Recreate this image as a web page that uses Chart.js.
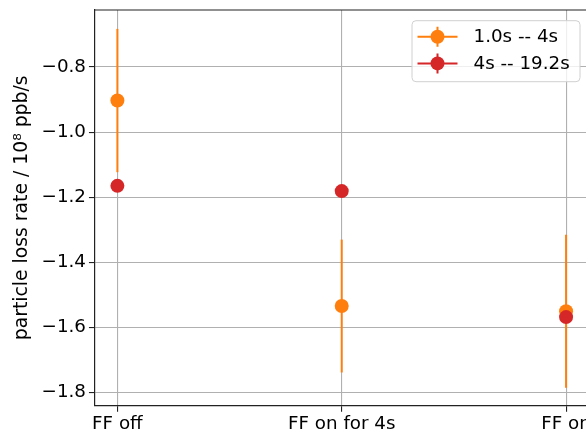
<!DOCTYPE html>
<html lang="en">
<head>
  <meta charset="UTF-8" />
  <title>Particle loss rate</title>
  <script src="https://cdn.jsdelivr.net/npm/chart.js"></script>
  <style>
    body {
      margin: 0;
      overflow: hidden;
      background: #fff;
    }

    /* a bit wider than the window: the right edge of the plot is cut off like in the original */
    .chart-container {
      width: 598px;
      height: 432px;
    }
  </style>
</head>
<body>
  <div class="chart-container">
    <canvas id="lossChart"></canvas>
  </div>

  <script>
    const categories = ['FF off', 'FF on for 4s', 'FF on'];
    const seriesLabels = ['1.0s -- 4s', '4s -- 19.2s'];
    const earlyRate = [-0.903, -1.534, -1.550];
    const earlyErr = [0.220, 0.204, 0.235];
    const lateRate = [-1.165, -1.181, -1.568];
    const lateErr = [0.015, 0.012, 0.015];
    const yTicks = [-1.8, -1.6, -1.4, -1.2, -1.0, -0.8];

    const orange = '#ff7f0e';
    const red = '#d62728';
    const font = { family: '"DejaVu Sans", sans-serif', size: 18.3 };

    const toPoints = (vals) => vals.map((v, i) => ({ x: i, y: v }));

    // drop the extra room chart.js keeps for edge labels, layout padding decides instead
    const noEdgePadding = (s) => {
      s.paddingTop = 0;
      s.paddingBottom = 0;
      s.paddingLeft = 0;
      s.paddingRight = 0;
    };

    // vertical error bar for each point, drawn just before its dataset so markers sit on top
    const errorBars = {
      id: 'errorBars',
      beforeDatasetDraw(chart, args) {
        const ds = chart.data.datasets[args.index];
        const { x, y } = chart.scales;
        const ctx = chart.ctx;
        ctx.save();
        ctx.strokeStyle = ds.backgroundColor;
        ctx.lineWidth = 2;
        ds.data.forEach((p, i) => {
          const px = x.getPixelForValue(p.x);
          ctx.beginPath();
          ctx.moveTo(px, y.getPixelForValue(p.y - ds.errors[i]));
          ctx.lineTo(px, y.getPixelForValue(p.y + ds.errors[i]));
          ctx.stroke();
        });
        ctx.restore();
      }
    };

    // top/right spines and the matplotlib style legend box
    const frameAndLegend = {
      id: 'frameAndLegend',
      afterDraw(chart) {
        const { ctx, chartArea: a } = chart;
        ctx.save();
        ctx.strokeStyle = '#222';
        ctx.lineWidth = 1.2;
        ctx.beginPath();
        ctx.moveTo(a.left, a.top);
        ctx.lineTo(a.right, a.top);
        ctx.lineTo(a.right, a.bottom);
        ctx.stroke();

        const boxW = 168, boxH = 61;
        const bx = a.right - 8.5 - boxW;
        const by = a.top + 10.7;
        ctx.beginPath();
        ctx.roundRect(bx, by, boxW, boxH, 4);
        ctx.fillStyle = 'rgba(255,255,255,0.8)';
        ctx.fill();
        ctx.strokeStyle = '#d0d0d0';
        ctx.lineWidth = 1;
        ctx.stroke();

        const items = [[seriesLabels[0], orange], [seriesLabels[1], red]];
        items.forEach(([label, color], i) => {
          const cy = by + 16 + i * 26.7;
          const hx = bx + 5.5;
          ctx.strokeStyle = color;
          ctx.lineWidth = 2;
          ctx.beginPath();
          ctx.moveTo(hx, cy);
          ctx.lineTo(hx + 40, cy);
          ctx.moveTo(hx + 20, cy - 10);
          ctx.lineTo(hx + 20, cy + 10);
          ctx.stroke();
          ctx.fillStyle = color;
          ctx.beginPath();
          ctx.arc(hx + 20, cy, 7, 0, Math.PI * 2);
          ctx.fill();
          ctx.fillStyle = '#000';
          ctx.font = `${font.size}px ${font.family}`;
          ctx.textBaseline = 'middle';
          ctx.textAlign = 'left';
          ctx.fillText(label, bx + 61.5, cy + 1);
        });
        ctx.restore();
      }
    };

    const ctx = document.getElementById('lossChart').getContext('2d');

    new Chart(ctx, {
      type: 'scatter',
      data: {
        datasets: [
          {
            label: seriesLabels[0],
            data: toPoints(earlyRate),
            errors: earlyErr,
            backgroundColor: orange,
            borderWidth: 0,
            pointRadius: 7,
            order: 1
          },
          {
            label: seriesLabels[1],
            data: toPoints(lateRate),
            errors: lateErr,
            backgroundColor: red,
            borderWidth: 0,
            pointRadius: 7,
            order: 0
          }
        ]
      },
      options: {
        responsive: true,
        maintainAspectRatio: false,
        animation: false,
        events: [],
        layout: {
          padding: { top: 10, left: 0, right: 9.5, bottom: -4 }
        },
        plugins: {
          legend: { display: false },
          tooltip: { enabled: false }
        },
        scales: {
          x: {
            type: 'linear',
            min: -0.1,
            max: 2.1,
            afterBuildTicks: (s) => {
              s.ticks = categories.map((_, i) => ({ value: i }));
            },
            afterFit: noEdgePadding,
            ticks: {
              callback: (v) => categories[v],
              color: '#000',
              font: { ...font, lineHeight: 1.0 },
              padding: 3,
              autoSkip: false,
              maxRotation: 0
            },
            grid: {
              color: '#b0b0b0',
              lineWidth: 1.1,
              tickColor: '#222',
              tickLength: 6
            },
            border: { color: '#222', width: 1.2 }
          },
          y: {
            min: -1.84,
            max: -0.625,
            afterBuildTicks: (s) => {
              s.ticks = yTicks.map((v) => ({ value: v }));
            },
            afterFit: noEdgePadding,
            ticks: {
              callback: (v) => (v < 0 ? '\u2212' : '') + Math.abs(v).toFixed(1),
              color: '#000',
              font: font,
              padding: 3
            },
            grid: {
              color: '#b0b0b0',
              lineWidth: 1.1,
              tickColor: '#222',
              tickLength: 6
            },
            border: { color: '#222', width: 1.2 },
            title: {
              display: true,
              text: 'particle loss rate / 10\u2078 ppb/s',
              color: '#000',
              font: { ...font, size: 18.8 },
              padding: { top: 11, bottom: 5 }
            }
          }
        }
      },
      plugins: [errorBars, frameAndLegend]
    });
  </script>
</body>
</html>
